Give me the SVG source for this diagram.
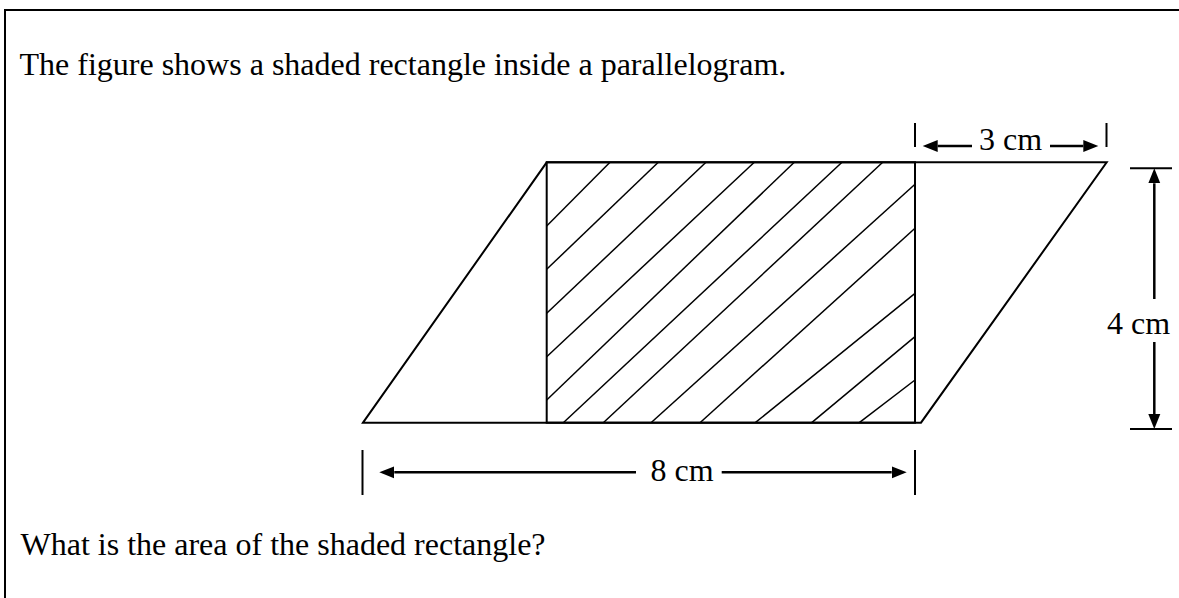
<svg xmlns="http://www.w3.org/2000/svg" width="1179" height="598" viewBox="0 0 1179 598">
<style>
.txt{font-family:"Liberation Serif","Times New Roman",serif;font-size:32px;fill:#000}
.outline{fill:none;stroke:#000;stroke-width:2;stroke-linejoin:miter}
.hatch{stroke:#000;stroke-width:1.5;fill:none}
.dim{stroke:#000;stroke-width:2.5;fill:none}
.tick{stroke:#000;stroke-width:2;fill:none}
</style>
<defs>
<marker id="arrow" markerUnits="userSpaceOnUse" markerWidth="16" markerHeight="14" viewBox="0 -7 16 14" refX="0" refY="0" orient="auto">
<path d="M0,-6 L15,0 L0,6 Z" fill="#000"/>
</marker>
</defs>
<rect width="1179" height="598" fill="#fff"/>
<rect id="frame" x="5" y="10" width="1185" height="600" fill="none" stroke="#000" stroke-width="2"/>
<text id="question1" class="txt" x="19.5" y="75">The figure shows a shaded rectangle inside a parallelogram.</text>
<text id="question2" class="txt" x="20.5" y="555">What is the area of the shaded rectangle?</text>
<g id="parallelogram">
<polygon class="outline" points="363,422.7 546.7,162.3 1106.7,162.3 921,422.7"/>
</g>
<g id="shaded-rectangle">
<g class="hatch">
<line x1="546.7" y1="226" x2="610" y2="162.3"/>
<line x1="546.7" y1="269.3" x2="658.3" y2="162.3"/>
<line x1="546.7" y1="313.3" x2="706" y2="162.3"/>
<line x1="546.7" y1="356.7" x2="754.3" y2="162.3"/>
<line x1="546.7" y1="400" x2="794.3" y2="162.3"/>
<line x1="563.3" y1="422.7" x2="842" y2="162.3"/>
<line x1="603.3" y1="422.7" x2="882.7" y2="162.3"/>
<line x1="651" y1="422.7" x2="915" y2="184.3"/>
<line x1="700" y1="422.7" x2="915" y2="228.3"/>
<line x1="755.3" y1="422.7" x2="915" y2="293.3"/>
<line x1="811.7" y1="422.7" x2="915" y2="336.7"/>
<line x1="859.3" y1="422.7" x2="915" y2="380"/>
</g>
<rect class="outline" x="546.7" y="162.3" width="368.3" height="260.4"/>
</g>
<g id="dim-3cm">
<line class="tick" x1="915" y1="123" x2="915" y2="147"/>
<line class="tick" x1="1106.5" y1="123" x2="1106.5" y2="147"/>
<text class="txt" x="1010.5" y="150" text-anchor="middle">3 cm</text>
</g>
<g id="dim-4cm">
<line class="tick" x1="1130" y1="168.3" x2="1172" y2="168.3"/>
<line class="tick" x1="1130" y1="429" x2="1172" y2="429"/>
<text class="txt" x="1107" y="334">4 cm</text>
</g>
<g id="dim-8cm">
<line class="tick" x1="362.5" y1="450" x2="362.5" y2="495"/>
<line class="tick" x1="915" y1="450" x2="915" y2="495"/>
<text class="txt" x="682" y="481" text-anchor="middle">8 cm</text>
</g>
<g id="connectors">
<line class="dim" x1="972" y1="146" x2="937.7" y2="146" marker-end="url(#arrow)"/>
<line class="dim" x1="1050" y1="146" x2="1083.3" y2="146" marker-end="url(#arrow)"/>
<line class="dim" x1="1154.3" y1="299" x2="1154.3" y2="183.3" marker-end="url(#arrow)"/>
<line class="dim" x1="1154.3" y1="342" x2="1154.3" y2="414" marker-end="url(#arrow)"/>
<line class="dim" x1="636" y1="472.3" x2="394.3" y2="472.3" marker-end="url(#arrow)"/>
<line class="dim" x1="721.7" y1="472.3" x2="891.7" y2="472.3" marker-end="url(#arrow)"/>
</g>
</svg>
